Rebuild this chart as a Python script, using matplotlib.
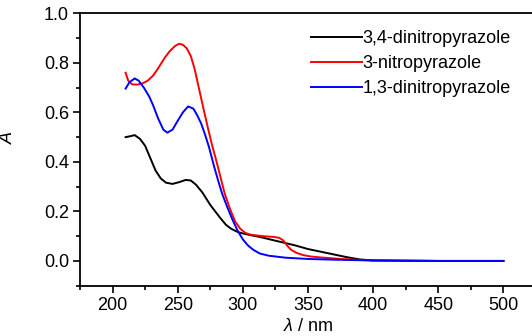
import matplotlib
matplotlib.use('Agg')
from matplotlib import pyplot as plt
from matplotlib.ticker import MultipleLocator

plt.rcParams['font.family'] = ['Liberation Sans', 'DejaVu Sans']
plt.rcParams['mathtext.fontset'] = 'custom'
plt.rcParams['mathtext.rm'] = 'Liberation Sans'
plt.rcParams['mathtext.it'] = 'Liberation Sans:italic'

# absorbance spectra
wl_34 = [210, 213, 217, 221, 225, 229, 233, 237, 241, 246, 251, 256, 260, 264, 269,
         275, 282, 287, 291, 296, 300, 306, 313, 320, 328, 340, 350, 360, 370, 380,
         390, 400, 420, 450, 500]
a_34 = [0.500, 0.503, 0.508, 0.493, 0.465, 0.415, 0.365, 0.333, 0.316, 0.311, 0.318,
        0.327, 0.325, 0.308, 0.276, 0.226, 0.178, 0.146, 0.130, 0.117, 0.111, 0.104,
        0.097, 0.088, 0.078, 0.063, 0.048, 0.037, 0.026, 0.015, 0.006, 0.002, 0.001,
        0.0, 0.0]

wl_3 = [210, 212, 215, 219, 223, 227, 231, 234, 237, 240, 244, 248, 251, 254, 257,
        260, 263, 267, 270, 273, 276, 280, 283, 286, 290, 294, 298, 302, 306, 312,
        318, 324, 328, 331, 334, 337, 341, 346, 352, 360, 375, 390, 400, 450, 500]
a_3 = [0.760, 0.728, 0.713, 0.712, 0.717, 0.728, 0.748, 0.770, 0.795, 0.820, 0.848,
       0.868, 0.877, 0.873, 0.858, 0.828, 0.775, 0.680, 0.610, 0.541, 0.475, 0.397,
       0.335, 0.273, 0.212, 0.160, 0.130, 0.113, 0.106, 0.102, 0.099, 0.097, 0.093,
       0.083, 0.062, 0.045, 0.033, 0.024, 0.018, 0.014, 0.008, 0.004, 0.002, 0.0, 0.0]

wl_13 = [210, 213, 217, 220, 224, 228, 231, 235, 239, 242, 246, 250, 254, 258, 262,
         265, 268, 271, 274, 278, 281, 284, 288, 292, 296, 300, 304, 308, 313, 320,
         333, 350, 370, 400, 450, 500]
a_13 = [0.696, 0.722, 0.737, 0.728, 0.700, 0.665, 0.630, 0.575, 0.530, 0.518, 0.530,
        0.566, 0.600, 0.624, 0.615, 0.588, 0.555, 0.510, 0.460, 0.380, 0.325, 0.273,
        0.218, 0.167, 0.122, 0.087, 0.062, 0.045, 0.030, 0.021, 0.013, 0.008, 0.005,
        0.002, 0.0, 0.0]

series = [
    ('3,4-dinitropyrazole', wl_34, a_34, 'black'),
    ('3-nitropyrazole', wl_3, a_3, 'red'),
    ('1,3-dinitropyrazole', wl_13, a_13, 'blue'),
]

fig = plt.figure(figsize=(5.32, 3.36), dpi=100)
ax = fig.add_axes([80 / 532, 50.3 / 336, 456 / 532, 272.4 / 336])

for label, x, y, color in series:
    ax.plot(x, y, color=color, linewidth=1.4, label=label)

ax.set_xlim(175, 525)
ax.set_ylim(-0.1, 1.0)
ax.xaxis.set_major_locator(MultipleLocator(50))
ax.xaxis.set_minor_locator(MultipleLocator(25))
ax.yaxis.set_major_locator(MultipleLocator(0.2))
ax.yaxis.set_minor_locator(MultipleLocator(0.1))
ax.set_xticks([200, 250, 300, 350, 400, 450, 500])
ax.yaxis.set_major_formatter(plt.FuncFormatter(lambda v, p: f'{v:.1f}'))

ax.tick_params(which='major', direction='out', length=5, width=1.2, labelsize=13, pad=3)
ax.tick_params(which='minor', direction='out', length=3, width=1.2)
ax.tick_params(top=False, right=False)
for sp in ax.spines.values():
    sp.set_linewidth(1.3)

ax.set_xlabel(r'$\lambda$ / nm', fontsize=13, labelpad=3)
ax.set_ylabel('A', fontsize=13, style='italic')
ax.yaxis.set_label_coords(-0.138, 0.544)

ax.legend(loc='upper left', bbox_to_anchor=(311 / 532, 1 - 30 / 336),
          bbox_transform=fig.transFigure, frameon=False, fontsize=13,
          handlelength=2.8, handletextpad=0.05, borderpad=0, borderaxespad=0,
          labelspacing=0.45)

fig.savefig('out.png', dpi=100)
